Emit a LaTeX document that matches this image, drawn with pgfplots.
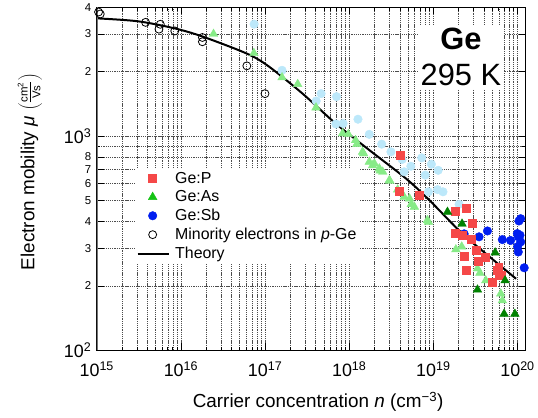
\documentclass[border=0pt]{standalone}
\usepackage{pgfplots}
\pgfplotsset{compat=1.18}
\usepackage{fontspec}
\setmainfont{Liberation Sans}
\definecolor{cred}{RGB}{245,72,72}
\definecolor{clgreen}{RGB}{135,235,135}
\definecolor{cdgreen}{RGB}{0,130,0}
\definecolor{clegreen}{RGB}{20,195,20}
\definecolor{clblue}{RGB}{188,232,250}
\definecolor{cblue}{RGB}{0,30,240}
\newcommand\sm{\fontsize{11.5}{12}\selectfont}
\pgfplotsset{
  mk legend/.style={legend image code/.code={\draw[##1] plot coordinates {(15bp,0bp)}; \path (0bp,0bp) (35bp,0bp);}},
  ln legend/.style={legend image code/.code={\draw[##1] (0bp,0bp) -- (31bp,0bp); \path (35bp,0bp);}},
}
\begin{document}
\begin{tikzpicture}
\begin{axis}[
  scale only axis, width=430bp, height=344bp,
  xmode=log, ymode=log,
  xmin=1e15, xmax=1.25e20, ymin=100, ymax=4000,
  xtick={1e15,1e16,1e17,1e18,1e19,1e20},
  xticklabels={10\textsuperscript{15},10\textsuperscript{16},10\textsuperscript{17},10\textsuperscript{18},10\textsuperscript{19},10\textsuperscript{20}},
  minor xtick={2e15,3e15,4e15,5e15,6e15,7e15,8e15,9e15,
               2e16,3e16,4e16,5e16,6e16,7e16,8e16,9e16,
               2e17,3e17,4e17,5e17,6e17,7e17,8e17,9e17,
               2e18,3e18,4e18,5e18,6e18,7e18,8e18,9e18,
               2e19,3e19,4e19,5e19,6e19,7e19,8e19,9e19},
  ytick={100,200,300,400,500,600,700,800,1000,2000,3000,4000},
  yticklabels={10\textsuperscript{2},{\sm 2},{\sm 3},{\sm 4},{\sm 5},{\sm 6},{\sm 7},{\sm 8},10\textsuperscript{3},{\sm 2},{\sm 3},{\sm 4}},
  minor ytick={900},
  grid=both,
  major grid style={dash pattern=on 1.3bp off 0.9bp, black!70, line width=0.5bp},
  minor grid style={dash pattern=on 1.3bp off 0.9bp, black!70, line width=0.5bp},
  tick label style={font=\fontsize{18}{18}\selectfont},
  xticklabel style={yshift=-8bp},
  yticklabel style={xshift=-2bp},
  major tick length=7bp, minor tick length=3.5bp,
  tick style={black, line width=0.8bp},
  axis line style={line width=1bp},
  xlabel={Carrier concentration \textit{n} (cm\textsuperscript{−3})},
  ylabel={Electron mobility \textit{μ} $\left(\frac{\mbox{\sm cm\textsuperscript{2}}}{\mbox{\sm Vs}}\right)$},
  label style={font=\fontsize{19}{19}\selectfont},
  xlabel style={at={(axis description cs:0.516,-0.151)}, anchor=center},
  ylabel style={at={(axis description cs:-0.156,0.52)}, anchor=center},
  legend cell align=left,
  legend style={at={(rel axis cs:0.088,0.53)}, anchor=north west, draw=none, fill=white,
    font=\fontsize{16}{16}\selectfont, row sep=2.7bp, inner sep=2bp, nodes={inner sep=1.6bp}},
]
% legend entries
\addlegendimage{mk legend, only marks, mark=square*, color=cred, mark size=4bp}
\addlegendentry{Ge:P}
\addlegendimage{mk legend, only marks, mark=triangle*, color=clegreen, mark size=5bp}
\addlegendentry{Ge:As}
\addlegendimage{mk legend, only marks, mark=*, color=cblue, mark size=4.3bp}
\addlegendentry{Ge:Sb}
\addlegendimage{mk legend, only marks, mark=o, color=black, mark size=4bp, mark options={line width=0.8bp}}
\addlegendentry{Minority electrons in \textit{p}-Ge}
\addlegendimage{ln legend, black, line width=2bp}
\addlegendentry{Theory}

% light blue circles
\addplot[forget plot, only marks, mark=*, color=clblue, mark size=4.3bp] coordinates {
(7.41e16,3335) (1.59e17,2030) (4.63e17,1580) (4.05e17,1460) (7.06e17,1530) (6.94e17,1140)
(8.45e17,1146) (1.27e18,1200) (1.73e18,1020) (2.43e18,918) (3.13e18,845) (4.25e18,779)
(5.4e18,724) (4.49e18,682) (7.27e18,792) (8.0e18,658) (9.47e18,740) (1.14e19,693)
(8.74e18,550) (1.12e19,563) (1.30e19,550) (2.02e19,481)};
% light green triangles
\addplot[forget plot, only marks, mark=triangle*, color=clgreen, mark size=5bp] coordinates {
(2.44e16,3000) (7.36e16,2440) (1.59e17,1880) (2.44e17,1750) (4.03e17,1360) (8.34e17,1030)
(9.75e17,1021) (1.19e18,957) (1.23e18,918) (1.44e18,845) (1.48e18,830) (1.73e18,759)
(1.89e18,730) (1.99e18,745) (2.28e18,706) (2.33e18,690) (2.50e18,682) (2.99e18,622)
(3.05e18,618) (3.76e18,563) (4.49e18,520) (5.21e18,511) (5.46e18,481) (5.94e18,468)
(8.49e18,405) (8.74e18,398) (1.85e19,296) (2.17e19,305) (3.34e19,241) (3.57e19,230)
(4.19e19,212) (6.32e19,184) (6.6e19,171)};
% Ge:Sb blue circles
\addplot[forget plot, only marks, mark=*, color=cblue, mark size=4.3bp] coordinates {
(2.32e19,350) (3.49e19,339) (4.39e19,361) (6.6e19,329) (8.26e19,326) (1.04e20,402) (1.09e20,412)
(9.93e19,351) (1.07e20,345) (1.02e20,339) (1.09e20,321) (1.0e20,305) (1.02e20,288) (1.2e20,243)};
% Ge:P red squares
\addplot[forget plot, only marks, mark=square*, color=cred, mark size=4bp] coordinates {
(3.99e18,815) (3.92e18,555) (6.79e18,530) (1.81e19,446) (2.47e19,459) (2.92e19,391)
(1.81e19,353) (2.22e19,345) (2.78e19,329) (3.19e19,293) (4.12e19,273) (2.34e19,275)
(3.44e19,260) (2.47e19,238) (5.75e19,237) (6.32e19,224) (5.04e19,208) (5.97e19,230) (5.97e19,245)};
% Ge:As dark green triangles
\addplot[forget plot, only marks, mark=triangle*, color=cdgreen, mark size=5bp] coordinates {
(1.47e19,443) (2.19e19,390) (5.42e19,286) (7.11e19,212) (3.34e19,192) (6.92e19,148) (9.3e19,148)};
% minority electrons
\addplot[forget plot, only marks, mark=o, color=black, mark size=4bp, mark options={line width=0.8bp}] coordinates {
(1.05e15,3800) (1.1e15,3720) (3.8e15,3400) (5.69e15,3330) (5.48e15,3160) (8.45e15,3100)
(1.8e16,2890) (1.8e16,2760) (6.07e16,2130) (9.97e16,1580)};
% theory
\addplot[forget plot, black, line width=2bp, smooth] coordinates {
(1e15,3550) (3.07e15,3440) (8.34e15,3190) (1.8e16,2920) (6.07e16,2430) (1.1e17,2120) (2.79e17,1580)
(6.83e17,1150) (1.74e18,860) (4.73e18,634) (8.98e18,502) (2.19e19,352) (4.95e19,268) (9.6e19,216)};

\draw[black!55, line width=1.6bp] (rel axis cs:0,0) -- (rel axis cs:0,1);
\node[fill=white, align=center, inner sep=3bp, font=\fontsize{31}{37}\selectfont] at (rel axis cs:0.849,0.855) {\textbf{Ge}\\295 K};
\end{axis}
\path (current axis.south west) ++(-97bp,-67bp) rectangle ++(538bp,417bp);
\end{tikzpicture}
\end{document}
